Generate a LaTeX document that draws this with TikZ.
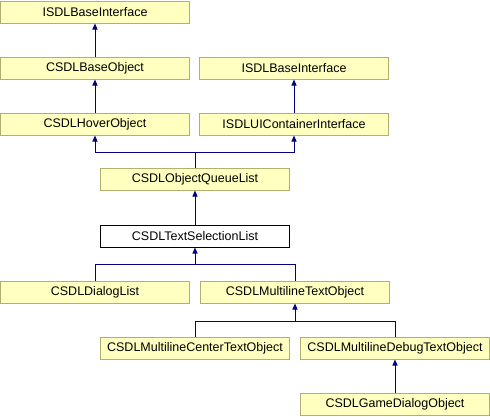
\documentclass[tikz,border=0pt]{standalone}
\usepackage{fontspec}
\setmainfont{Liberation Sans}
\usetikzlibrary{arrows.meta}
\definecolor{boxfill}{HTML}{FFFFC0}
\definecolor{boxline}{HTML}{B0B070}
\definecolor{edgecol}{HTML}{000080}
\tikzset{
  cls/.style={draw=boxline, fill=boxfill, line width=1pt, minimum width=189pt, minimum height=22pt, inner sep=0pt, font=\fontsize{12.5pt}{14pt}\selectfont},
  clsw/.style={cls, draw=black, fill=white},
  edge/.style={draw=edgecol, line width=1pt, -{Triangle[length=6pt,width=5pt]}},
  plain/.style={draw=edgecol, line width=1pt}
}
\begin{document}
\begin{tikzpicture}[x=1pt,y=-1pt]
\useasboundingbox (0,0) rectangle (490,416);
\node[cls] (ibase1) at (95,12) {ISDLBaseInterface};
\node[cls] (base) at (95,68) {CSDLBaseObject};
\node[cls] (ibase2) at (294,68) {ISDLBaseInterface};
\node[cls] (hover) at (95,124) {CSDLHoverObject};
\node[cls] (cont) at (294,124) {ISDLUIContainerInterface};
\node[cls] (queue) at (195,179) {CSDLObjectQueueList};
\node[clsw] (tsel) at (195,236) {CSDLTextSelectionList};
\node[cls] (dlg) at (95,292) {CSDLDialogList};
\node[cls] (mlt) at (295,292) {CSDLMultilineTextObject};
\node[cls] (cen) at (195,348) {CSDLMultilineCenterTextObject};
\node[cls] (dbg) at (395,348) {CSDLMultilineDebugTextObject};
\node[cls] (game) at (395,404) {CSDLGameDialogObject};

\draw[edge] (base) -- (ibase1);
\draw[edge] (hover) -- (base);
\draw[edge] (cont) -- (ibase2);
\coordinate (j1) at (195,152);
\draw[plain] (queue) -- (j1);
\draw[edge] (j1) -| (hover);
\draw[edge] (j1) -| (cont);
\draw[edge] (tsel) -- (queue);
\coordinate (j2) at (195,264);
\draw[plain] (dlg.north) |- (j2);
\draw[plain] (mlt.north) |- (j2);
\draw[edge] (j2) -- (tsel);
\coordinate (j3) at (295,321);
\draw[plain] (cen.north) |- (j3);
\draw[plain] (dbg.north) |- (j3);
\draw[edge] (j3) -- (mlt);
\draw[edge] (game) -- (dbg);
\end{tikzpicture}
\end{document}
